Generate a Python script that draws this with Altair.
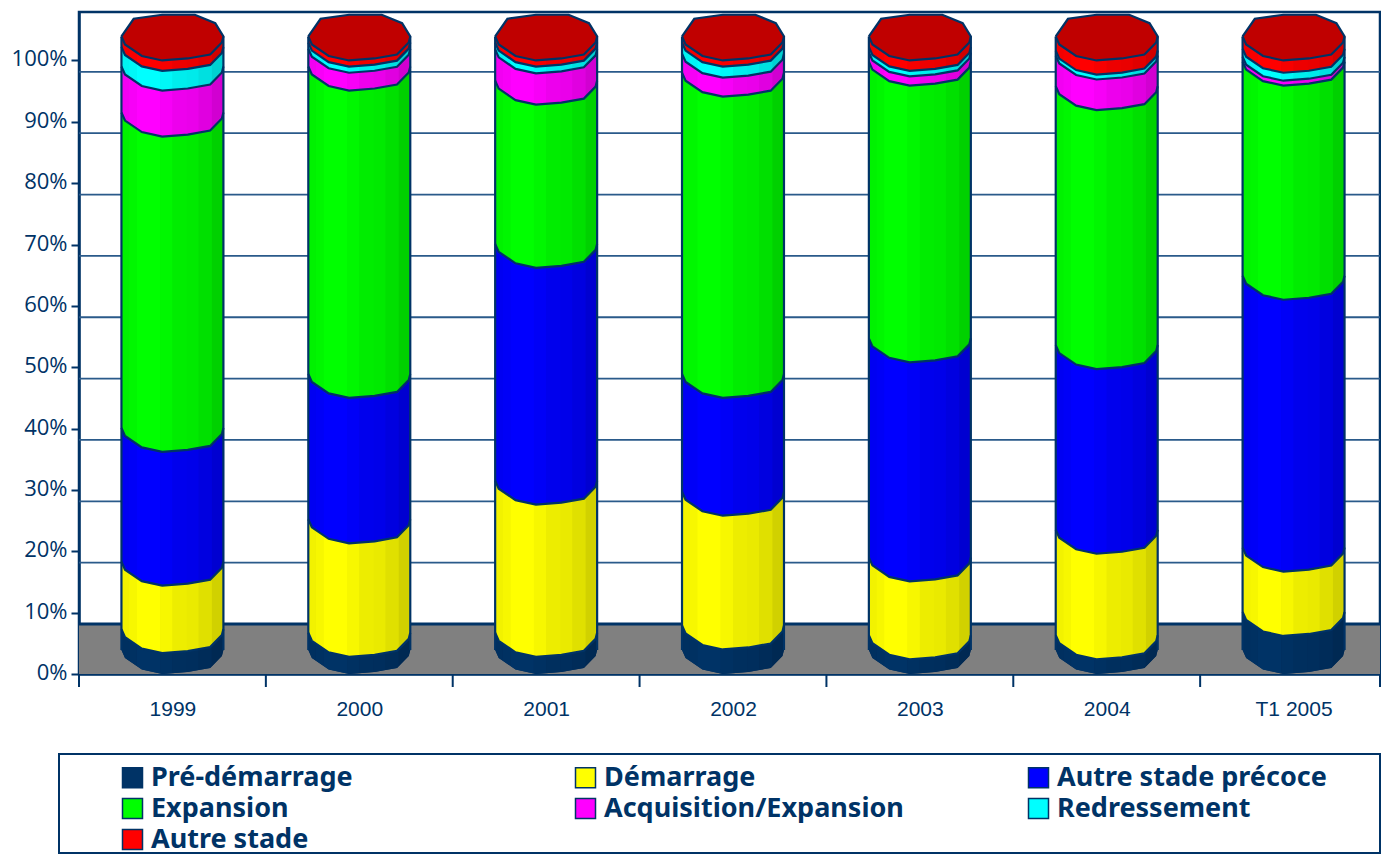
import altair as alt
import numpy as np
import pandas as pd

categories = ["1999", "2000", "2001", "2002", "2003", "2004", "T1 2005"]
series_names = ["Pré-démarrage", "Démarrage", "Autre stade précoce", "Expansion",
                "Acquisition/Expansion", "Redressement", "Autre stade"]
pre_demarrage = [3.4, 2.8, 2.8, 4.0, 2.4, 2.4, 6.2]
demarrage = [11.0, 18.5, 24.8, 21.8, 12.7, 17.2, 10.5]
autre_precoce = [21.8, 23.7, 38.6, 19.2, 35.7, 30.1, 44.3]
expansion = [51.4, 50.1, 26.6, 49.1, 45.1, 42.2, 34.9]
acquisition = [7.5, 2.9, 5.1, 3.1, 1.5, 5.0, 0.8]
redressement = [3.2, 1.0, 1.1, 1.8, 0.9, 0.8, 1.3]
autre_stade = [1.7, 1.0, 1.0, 1.0, 1.7, 2.3, 2.0]
series_values = [pre_demarrage, demarrage, autre_precoce, expansion, acquisition, redressement, autre_stade]
series_colors = ["#003366", "#FFFF00", "#0000FF", "#00FF00", "#FF00FF", "#00FFFF", "#FF0000"]

NAVY = "#003366"
UNIT = 6.135              # px per percentage point, only for converting the 3-D profile
DEPTH = 50 / UNIT         # floor depth of the 3-D box in percentage points
HALF = 51 / 186.9         # half width of a cylinder in category units
VIEW_W = 1301             # what fits in the page's 1373px body
X_END = 7 * VIEW_W / 1308

front_u = [-1, -.93, -.6, -.2, .3, .74, .97, 1]
front_drop = [24, 16, 4.5, 0, 2, 6, 18, 24]
back_u = [-1, -.76, -.2, .44, .84, 1]
back_rise = [0, 17.7, 21.7, 21.7, 13.3, 0]
stripe_edges = [-1, -.85, -.7, -.24, 0, .28, .51, .77, 1]
stripe_shade = [.95, .97, 1, .97, .93, .92, .88, .82]


def drop(u):
    return np.interp(u, front_u, front_drop) / UNIT


def rise(u):
    return (24 + np.interp(u, back_u, back_rise)) / UNIT


def shade(col, f):
    r, g, b = (int(col[i:i + 2], 16) for i in (1, 3, 5))
    return "#%02x%02x%02x" % (int(r * f), int(g * f), int(b * f))


areas, lines = [], []
all_u = sorted(set(front_u + back_u))
for c, cat in enumerate(categories):
    cx = c + .5
    cum = np.cumsum([s[c] for s in series_values])
    cum = cum / cum[-1] * 100
    low = 0.0
    for s, top in enumerate(cum):
        for u in front_u:
            areas.append(dict(x=cx + u * HALF, y=low + drop(u), y2=top + drop(u),
                              key=f"{c}-{s}-a", fill=shade(series_colors[s], .93)))
        for k in range(len(stripe_shade)):
            a, b = stripe_edges[k], stripe_edges[k + 1]
            us = sorted({a, b} | {u for u in front_u if a < u < b})
            for u in us:
                areas.append(dict(x=cx + u * HALF, y=low + drop(u), y2=top + drop(u),
                                  key=f"{c}-{s}-{k}", fill=shade(series_colors[s], stripe_shade[k])))
        if s < len(cum) - 1:
            for i, u in enumerate(front_u):
                lines.append(dict(x=cx + u * HALF, y=top + drop(u), key=f"b{c}-{s}", o=i))
        low = top
    # top disc
    for u in all_u:
        areas.append(dict(x=cx + u * HALF, y=100 + drop(u), y2=100 + rise(u), key=f"{c}-top", fill="#C00000"))
    o = 0
    for u in front_u:
        lines.append(dict(x=cx + u * HALF, y=100 + drop(u), key=f"t{c}", o=o)); o += 1
    for u in back_u[::-1]:
        lines.append(dict(x=cx + u * HALF, y=100 + rise(u), key=f"t{c}", o=o)); o += 1
    for side in (-1, 1):
        lines.append(dict(x=cx + side * HALF, y=drop(side), key=f"s{c}{side}", o=0))
        lines.append(dict(x=cx + side * HALF, y=100 + drop(side), key=f"s{c}{side}", o=1))

x_scale = alt.Scale(domain=[0, 7], range=[0, 1308], nice=False, zero=False)
y_scale = alt.Scale(domain=[0, 107.9], nice=False, zero=False)
cat_js = "[" + ",".join(f"'{c}'" for c in categories) + "][floor(datum.value)]"

floor = alt.Chart(pd.DataFrame({"x": [0], "x2": [X_END], "y": [0], "y2": [DEPTH]})).mark_rect(color="#808080").encode(
    x=alt.X("x:Q", scale=x_scale, axis=alt.Axis(
        values=[i + .5 for i in range(7)], labelExpr=cat_js, title=None, grid=False, ticks=False,
        domainColor=NAVY, domainWidth=2.5, labelColor=NAVY, labelFont="Liberation Sans",
        labelFontSize=21, labelPadding=24)),
    x2="x2:Q",
    y=alt.Y("y:Q", scale=y_scale, axis=alt.Axis(
        values=list(range(0, 101, 10)), labelExpr="datum.value + '%'", title=None, grid=False,
        tickSize=8, tickWidth=2, tickColor=NAVY, domainColor=NAVY, domainWidth=2.5, labelColor=NAVY,
        labelFont="Open Sans", labelFontSize=22, labelPadding=4, labelOffset=-1.5)),
    y2="y2:Q")

grid_df = pd.DataFrame({"y": [v + DEPTH for v in range(10, 100, 10)]})
grid = alt.Chart(grid_df).mark_rule(color="#2A5A8A", strokeWidth=1.8).encode(
    y=alt.Y("y:Q", scale=y_scale), x=alt.value(0), x2=alt.value(VIEW_W))
floor_line = alt.Chart(pd.DataFrame({"y": [DEPTH]})).mark_rule(color=NAVY, strokeWidth=3).encode(
    y=alt.Y("y:Q", scale=y_scale), x=alt.value(0), x2=alt.value(VIEW_W))
cat_ticks = alt.Chart(pd.DataFrame({"x": list(range(7)) + [X_END]})).mark_rule(color=NAVY, strokeWidth=2).encode(
    x=alt.X("x:Q", scale=x_scale), y=alt.value(662), y2=alt.value(675))

fills = alt.Chart(pd.DataFrame(areas)).mark_area().encode(
    x=alt.X("x:Q", scale=x_scale),
    y=alt.Y("y:Q", scale=y_scale, stack=None),
    y2="y2:Q",
    detail="key:N",
    fill=alt.Fill("fill:N", scale=None, legend=None))

outlines = alt.Chart(pd.DataFrame(lines)).mark_line(color=NAVY, strokeWidth=2.2).encode(
    x=alt.X("x:Q", scale=x_scale),
    y=alt.Y("y:Q", scale=y_scale),
    detail="key:N",
    order="o:Q")

legend_src = alt.Chart(pd.DataFrame({"name": series_names, "y": [0] * 7, "x": [0] * 7})).mark_square(size=0.01).encode(
    x=alt.X("x:Q", scale=x_scale),
    y=alt.Y("y:Q", scale=y_scale),
    color=alt.Color("name:N", scale=alt.Scale(domain=series_names, range=series_colors),
                    legend=alt.Legend(
                        title=None, orient="none", legendX=40, legendY=752, columns=3, gridAlign="all",
                        direction="horizontal",
                        symbolType="square", symbolSize=400, symbolOpacity=1, symbolStrokeColor=NAVY,
                        symbolStrokeWidth=1.5, labelFont="Noto Sans", labelFontWeight="bold",
                        labelFontSize=27, labelColor=NAVY, labelLimit=500, rowPadding=3,
                        columnPadding=121, labelOffset=5)))

frame = alt.Chart(pd.DataFrame({"a": [1]})).mark_rect(fill=None, stroke=NAVY, strokeWidth=2).encode(
    x=alt.value(-20), x2=alt.value(VIEW_W + 0), y=alt.value(742), y2=alt.value(841))

chart = alt.layer(floor, grid, floor_line, cat_ticks, fills, outlines, legend_src, frame).properties(
    width=VIEW_W, height=662, autosize=alt.AutoSizeParams(type="none"),
    padding={"left": 71, "top": 4, "right": 1, "bottom": 182},
).configure_view(stroke=NAVY, strokeWidth=2.5)

chart.save("out.html", embed_options={"renderer": "svg", "actions": False})
